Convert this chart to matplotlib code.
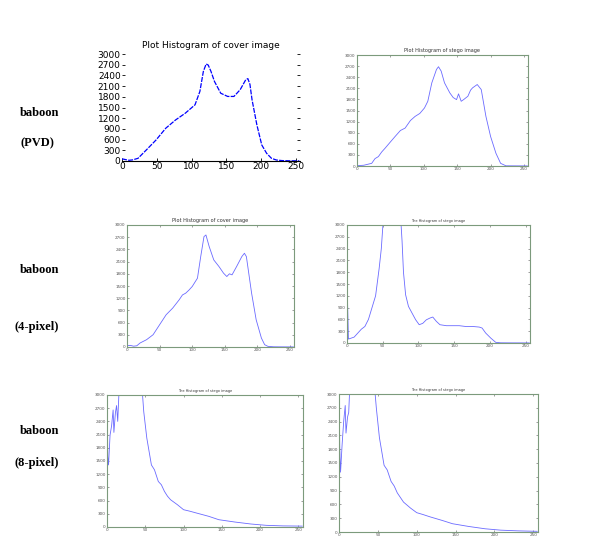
import matplotlib.pyplot as plt

# ---- data ----
# PVD cover image histogram
pvd_cover_x = [0, 5, 10, 15, 23, 35, 49, 63, 77, 91, 105, 112, 117, 121, 124, 128, 133, 142,
               152, 161, 170, 178, 181, 184, 187, 194, 201, 208, 215, 222, 230, 240, 255]
pvd_cover_y = [60, 40, 20, 30, 75, 310, 590, 920, 1150, 1340, 1575, 1950, 2510, 2720, 2690, 2510, 2230, 1900,
               1810, 1810, 2000, 2280, 2310, 2150, 1720, 1010, 450, 215, 75, 28, 12, 6, 4]

# PVD stego image histogram
pvd_stego_x = [0, 10, 22, 27, 32, 37, 42, 50, 57, 65, 72, 80, 87, 94, 101, 106, 112, 119, 122, 126, 131, 139,
               144, 149, 152, 156, 160, 166, 170, 173, 180, 186, 193, 200, 208, 215, 223, 240, 255]
pvd_stego_y = [10, 20, 72, 200, 254, 380, 480, 650, 797, 960, 1024, 1230, 1341, 1420, 1568, 1749, 2247, 2610, 2683, 2565, 2247, 1975,
               1850, 1794, 1950, 1749, 1800, 1885, 2050, 2112, 2202, 2066, 1341, 797, 344, 72, 5, 3, 2]

# 4-pixel cover image histogram
px4_cover_x = [0, 5, 10, 15, 20, 30, 40, 50, 60, 70, 80, 85, 90, 95, 100, 108, 113, 118, 121, 126, 133, 141,
               148, 153, 157, 161, 168, 176, 180, 183, 191, 198, 206, 211, 216, 225, 240, 255]
px4_cover_y = [33, 40, 20, 30, 98, 180, 302, 548, 793, 956, 1161, 1280, 1324, 1400, 1488, 1692, 2223, 2714, 2755, 2469, 2142, 1978,
               1815, 1733, 1800, 1774, 1978, 2223, 2305, 2223, 1324, 670, 221, 57, 16, 5, 3, 2]

# 4-pixel stego image histogram
px4_stego_x = [0, 0.5, 2, 10, 20, 25, 30, 35, 40, 45, 48, 51, 60, 75, 77, 79, 82, 86, 91, 96, 101, 106, 111,
               116, 120, 125, 130, 139, 148, 157, 166, 176, 185, 189, 194, 201, 208, 215, 230, 255]
px4_stego_y = [1250, 1250, 100, 150, 350, 420, 600, 900, 1200, 1900, 2400, 3200, 5000, 3200, 2600, 1800, 1225, 930, 760, 592, 465, 500, 590,
               634, 660, 550, 465, 440, 440, 440, 420, 420, 405, 380, 253, 127, 17, 5, 3, 2]

# 8-pixel stego image histograms
px8a_x = [0, 1, 2, 4, 6, 8, 9, 11, 12.5, 14, 16, 30, 46, 48, 52, 58, 62, 67, 71, 75, 79, 83, 92, 100,
          108, 117, 133, 146, 167, 188, 208, 230, 242, 255]
px8a_y = [3200, 1600, 1410, 2090, 2300, 2660, 2150, 2600, 2760, 2400, 3200, 6000, 3100, 2620, 2020, 1410, 1300, 1035, 960, 810, 700, 620, 506, 393,
          360, 317, 242, 166, 113, 68, 38, 25, 23, 20]

px8b_x = [0, 1, 2, 4, 6, 8, 9, 11, 12.5, 14, 30, 46, 48, 52, 58, 62, 67, 71, 75, 83, 92, 100,
          108, 117, 133, 146, 167, 188, 208, 230, 242, 255]
px8b_y = [3200, 1800, 1300, 1900, 2400, 2750, 2150, 2500, 2600, 3200, 6000, 3100, 2700, 2050, 1450, 1350, 1100, 1000, 850, 650, 520, 420,
          380, 330, 250, 180, 120, 70, 40, 25, 20, 15]

yticks = list(range(0, 3001, 300))
xticks = [0, 50, 100, 150, 200, 250]

W, H = 607, 554
fig = plt.figure(figsize=(W / 100, H / 100), dpi=100)


def add_ax(l, t, r, b):
    return fig.add_axes([l / W, 1 - b / H, (r - l) / W, (b - t) / H])


frame_col = '#7c9a7c'
line_col = '#6a6aff'


def small_panel(ax, x, y, title, tsize):
    ax.plot(x, y, color=line_col, lw=0.6)
    ax.set_xlim(0, 256)
    ax.set_ylim(0, 3000)
    ax.set_xticks(xticks)
    ax.set_yticks(yticks)
    ax.tick_params(labelsize=3, length=1.5, width=0.4, colors='#555555',
                   right=True, top=True, direction='in', pad=1)
    for s in ax.spines.values():
        s.set_color(frame_col)
        s.set_linewidth(0.8)
    ax.axhline(0, color='#c080c0', lw=0.6, ls=':')
    ax.set_title(title, fontsize=tsize, pad=2, color='#333333')


# panel 1 : PVD cover
ax1 = add_ax(122, 54, 300, 161)
ax1.plot(pvd_cover_x, pvd_cover_y, color='blue', lw=0.9, ls=(0, (4, 1)))
ax1.set_xlim(0, 256)
ax1.set_ylim(0, 3000)
ax1.set_xticks(xticks)
ax1.set_yticks(yticks)
ax1.tick_params(labelsize=6.5, length=2, width=0.6, right=True, direction='in', pad=1)
ax1.spines['top'].set_visible(False)
ax1.spines['right'].set_visible(False)
ax1.spines['left'].set_visible(False)
ax1.set_title('Plot Histogram of cover image', fontsize=6.5, pad=4)

ax2 = add_ax(357, 55, 528, 166)
small_panel(ax2, pvd_stego_x, pvd_stego_y, 'Plot Histogram of stego image', 3.6)

ax3 = add_ax(127, 225, 294, 347)
small_panel(ax3, px4_cover_x, px4_cover_y, 'Plot Histogram of cover image', 3.6)

ax4 = add_ax(347, 225, 530, 343)
small_panel(ax4, px4_stego_x, px4_stego_y, 'The Histogram of stego image', 2.5)

ax5 = add_ax(107, 395, 303, 527)
small_panel(ax5, px8a_x, px8a_y, 'The Histogram of stego image', 2.5)

ax6 = add_ax(339, 394, 538, 532)
small_panel(ax6, px8b_x, px8b_y, 'The Histogram of stego image', 2.5)

# row labels
lab = dict(fontsize=9, fontweight='bold', family='Liberation Serif', ha='center', va='center')
fig.text(40 / W, 1 - 113 / H, 'baboon', **lab)
fig.text(37 / W, 1 - 143 / H, '(PVD)', **lab)
fig.text(40 / W, 1 - 270 / H, 'baboon', **lab)
fig.text(37 / W, 1 - 327 / H, '(4-pixel)', **lab)
fig.text(40 / W, 1 - 431 / H, 'baboon', **lab)
fig.text(37 / W, 1 - 463 / H, '(8-pixel)', **lab)

fig.savefig('out.png', dpi=100)
